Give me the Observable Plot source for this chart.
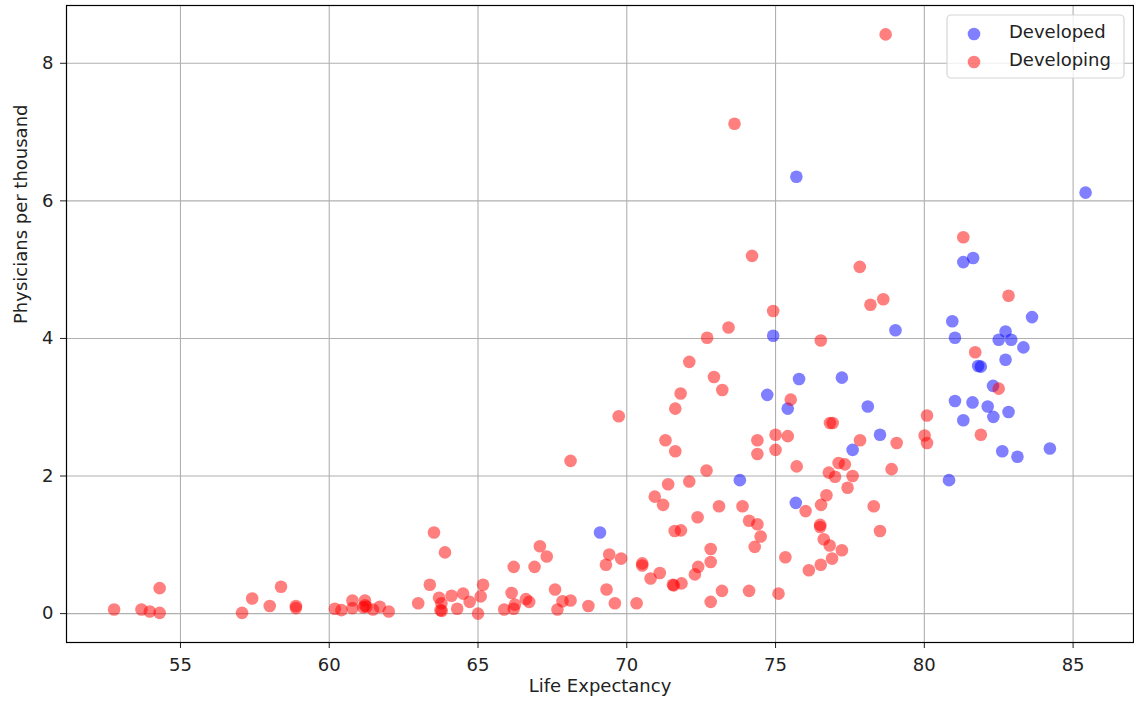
<!DOCTYPE html>
<html>
<head>
<meta charset="utf-8">
<script src="https://cdn.jsdelivr.net/npm/d3@7"></script>
<script src="https://cdn.jsdelivr.net/npm/@observablehq/plot@0.6"></script>
<style>
  html, body { margin: 0; padding: 0; background: #fff; }
  svg { display: block; }
</style>
</head>
<body>
<div id="chart"></div>
<script>
const categories = ["Developed", "Developing"];
const categoryColors = ["#0000ff", "#ff0000"];
const xTicks = [55, 60, 65, 70, 75, 80, 85];
const yTicks = [0, 2, 4, 6, 8];
const xLabel = "Life Expectancy";
const yLabel = "Physicians per thousand";

const developedX = [69.10, 74.92, 74.72, 75.79, 77.23, 75.41, 78.10, 78.51, 77.59, 79.03,
  73.80, 75.68, 81.31, 81.64, 83.62, 80.94, 81.03, 82.73, 82.50, 82.92,
  83.33, 82.73, 81.81, 81.90, 82.31, 81.03, 81.62, 82.13, 82.32, 82.83,
  81.31, 82.62, 83.13, 84.22, 80.83, 75.70, 85.42];
const developedY = [1.18, 4.04, 3.18, 3.41, 3.43, 2.98, 3.01, 2.60, 2.38, 4.12,
  1.94, 1.61, 5.11, 5.17, 4.31, 4.25, 4.01, 4.10, 3.98, 3.98,
  3.87, 3.69, 3.60, 3.59, 3.31, 3.09, 3.07, 3.01, 2.86, 2.93,
  2.81, 2.36, 2.28, 2.40, 1.94, 6.35, 6.12];

const developingX = [52.77, 53.69, 53.97, 54.30, 54.30, 57.07, 57.41, 58.00, 58.38, 58.88,
  58.88, 60.19, 60.41, 60.78, 60.78, 61.20, 61.14, 61.25, 61.20, 61.47,
  61.70, 62.00, 62.99, 63.38, 63.52, 63.89, 63.69, 63.77, 63.74, 63.78,
  64.11, 64.30, 64.50, 64.72, 65.09, 65.17, 65.00, 65.88, 66.13, 66.20,
  66.24, 66.20, 66.61, 66.72, 66.90, 67.08, 67.31, 67.59, 67.84, 67.67,
  68.11, 68.11, 68.71, 69.32, 69.30, 69.41, 69.60, 69.81, 69.73, 70.33,
  70.52, 70.52, 70.80, 71.11, 71.55, 71.58, 71.84, 72.29, 72.40, 72.38,
  71.61, 71.82, 70.94, 71.22, 71.39, 72.10, 71.30, 71.63, 71.63, 74.92,
  73.42, 72.70, 76.52, 78.19, 78.62, 72.10, 72.93, 73.21, 71.81, 75.51,
  76.83, 76.92, 79.07, 77.84, 74.39, 74.39, 75.00, 75.00, 75.41, 75.71,
  77.12, 77.33, 76.79, 77.00, 77.59, 77.42, 78.90, 72.68, 76.01, 76.53,
  76.71, 78.30, 78.51, 73.10, 73.89, 74.11, 74.39, 74.50, 74.30, 72.82,
  72.82, 73.20, 72.82, 74.11, 75.10, 75.33, 76.50, 76.50, 76.62, 76.82,
  77.23, 76.90, 76.52, 76.12, 81.31, 77.83, 82.83, 81.71, 82.50, 80.09,
  81.90, 80.01, 80.09, 78.70, 73.62, 74.21];
const developingY = [0.06, 0.06, 0.03, 0.37, 0.01, 0.01, 0.22, 0.11, 0.39, 0.11,
  0.08, 0.07, 0.05, 0.19, 0.08, 0.19, 0.09, 0.10, 0.12, 0.06,
  0.10, 0.03, 0.15, 0.42, 1.18, 0.89, 0.23, 0.15, 0.05, 0.04,
  0.26, 0.07, 0.29, 0.17, 0.25, 0.42, 0.00, 0.06, 0.30, 0.68,
  0.13, 0.07, 0.21, 0.17, 0.68, 0.98, 0.83, 0.35, 0.18, 0.06,
  0.19, 2.22, 0.11, 0.35, 0.71, 0.86, 0.15, 0.80, 2.87, 0.15,
  0.73, 0.70, 0.51, 0.59, 0.42, 0.41, 0.44, 0.57, 0.68, 1.40,
  1.20, 1.21, 1.70, 1.58, 1.88, 1.92, 2.52, 2.36, 2.98, 4.40,
  4.16, 4.01, 3.97, 4.49, 4.57, 3.66, 3.44, 3.25, 3.20, 3.11,
  2.77, 2.77, 2.48, 2.52, 2.52, 2.32, 2.60, 2.38, 2.58, 2.14,
  2.19, 2.17, 2.05, 1.99, 2.00, 1.83, 2.10, 2.08, 1.49, 1.58,
  1.72, 1.56, 1.20, 1.56, 1.56, 1.35, 1.30, 1.12, 0.97, 0.94,
  0.75, 0.33, 0.17, 0.33, 0.29, 0.82, 1.29, 1.26, 1.08, 0.99,
  0.92, 0.80, 0.71, 0.63, 5.47, 5.04, 4.62, 3.80, 3.27, 2.88,
  2.60, 2.59, 2.48, 8.42, 7.12, 5.20];

const developed = developedX.map((x, i) => ({x, y: developedY[i]}));
const developing = developingX.map((x, i) => ({x, y: developingY[i]}));

const W = 1134, H = 703;
const mL = 66, mR = 1, mT = 5, mB = 61;
const font = "DejaVu Sans";
const R = 6.3;

const chart = Plot.plot({
  width: W,
  height: H,
  marginLeft: mL,
  marginRight: mR,
  marginTop: mT,
  marginBottom: mB,
  style: {fontFamily: font, fontSize: "18px", color: "#222", background: "#fff"},
  x: {domain: [51.17, 87.03]},
  y: {domain: [-0.42, 8.84]},
  marks: [
    Plot.gridX(xTicks, {stroke: "#b0b0b0", strokeOpacity: 1, strokeWidth: 1.1}),
    Plot.gridY(yTicks, {stroke: "#b0b0b0", strokeOpacity: 1, strokeWidth: 1.1}),
    Plot.dot(developed, {x: "x", y: "y", r: R, fill: categoryColors[0], fillOpacity: 0.5, stroke: "none"}),
    Plot.dot(developing, {x: "x", y: "y", r: R, fill: categoryColors[1], fillOpacity: 0.5, stroke: "none"}),
    Plot.axisX(xTicks, {tickSize: 6, tickPadding: 10, label: null, fontSize: 18, tickFormat: d => String(d)}),
    Plot.axisY(yTicks, {tickSize: 6, tickPadding: 7, label: null, fontSize: 18, tickFormat: d => String(d)}),
    Plot.frame({stroke: "#000", strokeWidth: 1.2}),
    Plot.text([xLabel], {text: d => d, frameAnchor: "bottom", dy: 49, fontSize: 18, fill: "#222"}),
    Plot.text([yLabel], {text: d => d, frameAnchor: "left", rotate: -90, dx: -45, fontSize: 18, fill: "#222"})
  ]
});

// Legend (matplotlib-style, inside the top-right corner)
const svg = d3.select(chart);
const lg = svg.append("g")
  .attr("font-family", font)
  .attr("font-size", 18)
  .attr("text-anchor", "start");
const boxX = 947, boxY = 15, boxW = 177, boxH = 63;
lg.append("rect")
  .attr("x", boxX).attr("y", boxY).attr("width", boxW).attr("height", boxH)
  .attr("rx", 4).attr("ry", 4)
  .attr("fill", "#fff").attr("fill-opacity", 0.8)
  .attr("stroke", "#d6d6d6").attr("stroke-width", 1.2);
categories.forEach((c, i) => {
  const cy = 34 + i * 28;
  lg.append("circle").attr("cx", 974).attr("cy", cy).attr("r", R)
    .attr("fill", categoryColors[i]).attr("fill-opacity", 0.5);
  lg.append("text").attr("x", 1009).attr("y", cy + 3.5)
    .attr("text-anchor", "start").attr("fill", "#222").text(c);
});

document.getElementById("chart").appendChild(chart);
</script>
</body>
</html>
